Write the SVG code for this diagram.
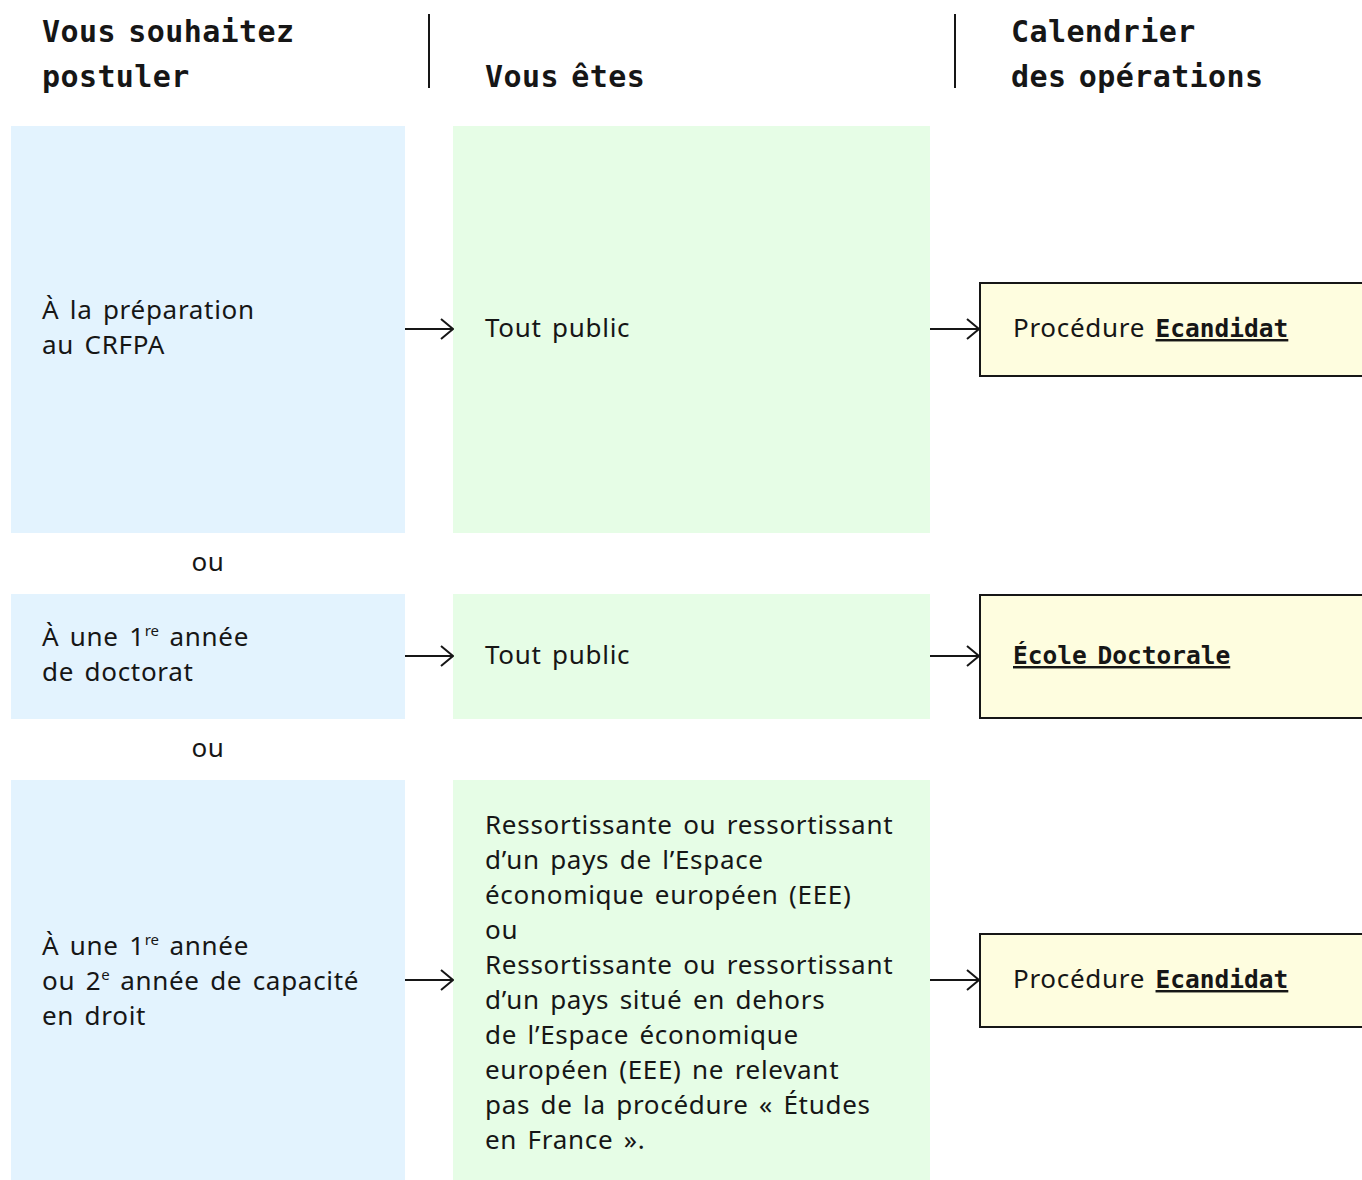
<svg xmlns="http://www.w3.org/2000/svg" width="1362" height="1180" viewBox="0 0 1362 1180">
<style>
.hd{font-family:"DejaVu Sans Mono","Liberation Mono",monospace;font-weight:bold;font-size:30px;fill:#161616;word-spacing:-6px;letter-spacing:0.4px}
.tx{font-family:"Noto Sans","Open Sans",sans-serif;font-size:26px;fill:#161616;letter-spacing:0.7px;word-spacing:3px}
.bd{font-family:"DejaVu Sans Mono","Liberation Mono",monospace;font-weight:bold;font-size:24.5px;fill:#161616;text-decoration:underline;letter-spacing:0;word-spacing:-4px}
.blue{fill:#E3F3FE}
.green{fill:#E6FDE6}
.yel{fill:#FEFDDF;stroke:#161616;stroke-width:2}
.sep{stroke:#161616;stroke-width:2}
.arr{stroke:#161616;stroke-width:2;fill:none}
.sup{font-size:15px;letter-spacing:0}
</style>
<defs>
<marker id="ah" viewBox="0 0 14 22" refX="13" refY="11" markerWidth="14" markerHeight="22" markerUnits="userSpaceOnUse" orient="auto">
<path d="M1,1 L13,11 L1,21" fill="none" stroke="#161616" stroke-width="2"/>
</marker>
</defs>
<rect width="1362" height="1180" fill="#fff"/>
<g id="headers">
<text class="hd" x="42" y="42">Vous souhaitez</text>
<text class="hd" x="42" y="87">postuler</text>
<text class="hd" x="485" y="87">Vous êtes</text>
<text class="hd" x="1011" y="42">Calendrier</text>
<text class="hd" x="1011" y="87">des opérations</text>
<line class="sep" x1="429" y1="14" x2="429" y2="88"/>
<line class="sep" x1="955" y1="14" x2="955" y2="88"/>
</g>
<g id="n-crfpa">
<rect class="blue" x="11" y="126" width="394" height="407"/>
<text class="tx" x="42" y="319">À la préparation</text>
<text class="tx" x="42" y="354">au CRFPA</text>
</g>
<g id="n-public1">
<rect class="green" x="453" y="126" width="477" height="407"/>
<text class="tx" x="485" y="337">Tout public</text>
</g>
<g id="n-ecand1">
<rect class="yel" x="980" y="283" width="400" height="93"/>
<text class="tx" x="1013" y="337">Procédure <tspan class="bd">Ecandidat</tspan></text>
</g>
<text class="tx" x="208" y="571" text-anchor="middle">ou</text>
<g id="n-doctorat">
<rect class="blue" x="11" y="594" width="394" height="125"/>
<text class="tx" x="42" y="646">À une 1<tspan class="sup" dy="-10">re</tspan><tspan dy="10"> année</tspan></text>
<text class="tx" x="42" y="681">de doctorat</text>
</g>
<g id="n-public2">
<rect class="green" x="453" y="594" width="477" height="125"/>
<text class="tx" x="485" y="664">Tout public</text>
</g>
<g id="n-ecole">
<rect class="yel" x="980" y="595" width="400" height="123"/>
<text class="bd" x="1013" y="664">École Doctorale</text>
</g>
<text class="tx" x="208" y="757" text-anchor="middle">ou</text>
<g id="n-capacite">
<rect class="blue" x="11" y="780" width="394" height="400"/>
<text class="tx" x="42" y="955">À une 1<tspan class="sup" dy="-10">re</tspan><tspan dy="10"> année</tspan></text>
<text class="tx" x="42" y="990">ou 2<tspan class="sup" dy="-10">e</tspan><tspan dy="10"> année de capacité</tspan></text>
<text class="tx" x="42" y="1025">en droit</text>
</g>
<g id="n-eee">
<rect class="green" x="453" y="780" width="477" height="400"/>
<text class="tx" x="485" y="834">Ressortissante ou ressortissant</text>
<text class="tx" x="485" y="869">d’un pays de l’Espace</text>
<text class="tx" x="485" y="904">économique européen (EEE)</text>
<text class="tx" x="485" y="939">ou</text>
<text class="tx" x="485" y="974">Ressortissante ou ressortissant</text>
<text class="tx" x="485" y="1009">d’un pays situé en dehors</text>
<text class="tx" x="485" y="1044">de l’Espace économique</text>
<text class="tx" x="485" y="1079">européen (EEE) ne relevant</text>
<text class="tx" x="485" y="1114">pas de la procédure « Études</text>
<text class="tx" x="485" y="1149">en France ».</text>
</g>
<g id="n-ecand2">
<rect class="yel" x="980" y="934" width="400" height="93"/>
<text class="tx" x="1013" y="988">Procédure <tspan class="bd">Ecandidat</tspan></text>
</g>
<g id="connectors">
<line class="arr" x1="405" y1="329" x2="453" y2="329" marker-end="url(#ah)"/>
<line class="arr" x1="930" y1="329" x2="979" y2="329" marker-end="url(#ah)"/>
<line class="arr" x1="405" y1="656" x2="453" y2="656" marker-end="url(#ah)"/>
<line class="arr" x1="930" y1="656" x2="979" y2="656" marker-end="url(#ah)"/>
<line class="arr" x1="405" y1="980" x2="453" y2="980" marker-end="url(#ah)"/>
<line class="arr" x1="930" y1="980" x2="979" y2="980" marker-end="url(#ah)"/>
</g>
</svg>
